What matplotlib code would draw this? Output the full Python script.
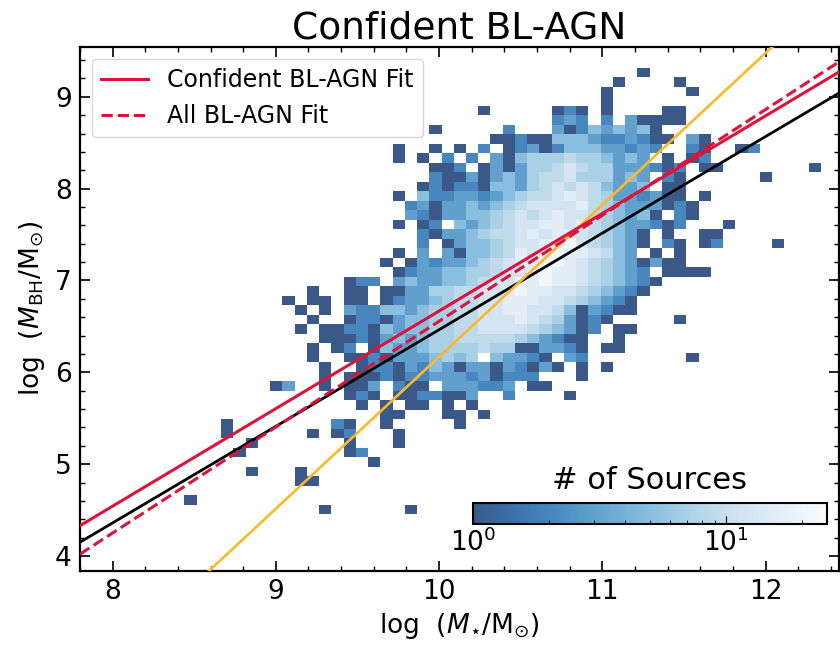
import numpy as np
import matplotlib
matplotlib.use("Agg")
import matplotlib.pyplot as plt
from matplotlib.colors import LogNorm
from matplotlib.ticker import MultipleLocator

# 2D histogram of sources.
# top row = highest log M_BH bin; '.' = empty, digit = index into level_counts
level_counts = [0, 1, 2, 3, 5, 7, 9, 12, 16, 21]
count_rows = [
    "..........|..........|..........|.......1..|..........|..",
    "..........|..........|..........|.....1....|1.........|..",
    "..........|..........|..........|....1.....|.1........|..",
    "..........|..........|..........|....1.....|..........|..",
    "..........|..........|....1.....|121.1....1|1.........|..",
    "..........|..........|..........|232.2.3111|1.........|..",
    "..........|..........|1.....2...|312434341.|..........|..",
    "..........|..........|.....11211|4443223211|.31.......|..",
    "..........|.......1..|1.1.2.1231|244433232.|.21..12...|..",
    "..........|.......1.1|.2.2.31455|56554343.1|.12.......|..",
    "..........|..........|112.131355|6765533321|2.11......|.1",
    "..........|..........|2113134356|67555343.2|1......1..|..",
    "..........|.........1|2122144356|76764334.1|1.........|..",
    "..........|.......1.4|2233234566|7876533231|1.1.......|..",
    "..........|........23|1334345677|7786543331|21........|..",
    "..........|........32|1334456767|877654341.|21........|..",
    "..........|.......1.1|2.43456778|8786543321|2...1.....|..",
    "..........|.........2|1334566787|88765431.1|..11......|..",
    "..........|.........2|.134456778|89765431.2|1.12....1.|..",
    "..........|.......1.3|.314456878|9887643.1.|1.........|..",
    "..........|......1.13|2334567889|9876543131|1.........|..",
    "..........|.......123|3445567789|88765432.1|111.......|..",
    "..........|...122.343|3445677989|887654321.|..........|..",
    "..........|1..11.1133|5566778988|77654321..|..........|..",
    "........1.|11.11.1233|4566778887|7654321...|..........|..",
    ".........1|.1.3224434|5566778877|6413211...|..........|..",
    "..........|1..1221344|5566777876|53121.....|1.........|..",
    ".........1|.112214344|5566777765|4312.11...|..........|..",
    "..........|.111213434|5566666543|211..1....|..........|..",
    "..........|1.12.14334|5555655113|321.11....|..........|..",
    "..........|1..1121333|4545.43321|.32.......|.1........|..",
    "..........|.1..122132|4313313213|1.1.1.....|..........|..",
    "..........|.1.1112122|333231222.|..1.......|..........|..",
    ".......13.|.1.113.211|.333223.11|..........|..........|..",
    "..........|...121.112|2113..2...|.1........|..........|..",
    "..........|....1.1.11|.1.1......|..........|..........|..",
    "..........|......11..|.11.1.....|..........|..........|..",
    "...1......|..21..1...|..1.......|..........|..........|..",
    "...1......|1.12...1..|..........|..........|..........|..",
    ".....1....|...1...1..|..........|..........|..........|..",
    "....1.....|...12.....|..........|..........|..........|..",
    "..........|.....1....|..........|..........|..........|..",
    ".....1...1|..........|..........|..........|..........|..",
    ".........1|1.........|..........|..........|..........|..",
    "..........|..........|..........|..........|..........|..",
    "1.........|..........|..........|..........|..........|..",
    "..........|.1......1.|..........|..........|..........|..",
]
mstar_range = (8.44, 12.34)
mbh_range = (4.454, 9.318)
count_max = 25

# relations (endpoints read at the axis edges)
fit_x = [7.8, 12.45]
conf_fit_y = [4.33, 9.27]
all_fit_y = [4.02, 9.38]
black_rel_y = [4.15, 9.04]
orange_rel_y = [2.53, 10.22]

key = ".123456789"
grid = np.array([[level_counts[key.index(c)] for c in r.replace("|", "")]
                 for r in count_rows], dtype=float)[::-1]
grid = np.ma.masked_equal(grid, 0)
xe = np.linspace(mstar_range[0], mstar_range[1], grid.shape[1] + 1)
ye = np.linspace(mbh_range[0], mbh_range[1], grid.shape[0] + 1)

fig = plt.figure(figsize=(8.4, 6.48), dpi=100)
ax = fig.add_axes([0.0952, 0.1193, 0.9036, 0.8086])

mesh = ax.pcolormesh(xe, ye, grid, cmap="Blues_r",
                     norm=LogNorm(vmin=1, vmax=count_max),
                     alpha=0.8, linewidth=0, antialiased=False)

ax.plot(fit_x, black_rel_y, color="black", lw=2.0, zorder=3)
ax.plot(fit_x, orange_rel_y, color="#fbb829", lw=1.9, zorder=3)
ax.plot(fit_x, conf_fit_y, color="#dc143c", lw=2.2, zorder=4,
        label="Confident BL-AGN Fit")
ax.plot(fit_x, all_fit_y, color="#dc143c", lw=2.2, ls="--", zorder=4,
        label="All BL-AGN Fit")

ax.set_xlim(7.8, 12.45)
ax.set_ylim(3.84, 9.545)
ax.xaxis.set_major_locator(MultipleLocator(1))
ax.yaxis.set_major_locator(MultipleLocator(1))
ax.xaxis.set_minor_locator(MultipleLocator(0.2))
ax.yaxis.set_minor_locator(MultipleLocator(0.2))
ax.tick_params(which="both", direction="in", top=True, right=True,
               labelsize=19, pad=6)
ax.tick_params(which="major", length=7, width=1.2)
ax.tick_params(which="minor", length=3.5, width=1.0)
for s in ax.spines.values():
    s.set_linewidth(1.6)

ax.set_xlabel(r"log  ($M_{\star}$/M$_{\odot}$)", fontsize=19, labelpad=4)
ax.set_ylabel(r"log  ($M_{\rm BH}$/M$_{\odot}$)", fontsize=19, labelpad=6)
ax.set_title("Confident BL-AGN", fontsize=27, pad=6)

ax.legend(loc="upper left", fontsize=17, framealpha=0.8)

cax = fig.add_axes([0.563, 0.1914, 0.4214, 0.0324])
cb = fig.colorbar(mesh, cax=cax, orientation="horizontal")
cb.set_label("# of Sources", fontsize=22, labelpad=10)
cax.xaxis.set_label_position("top")
cax.tick_params(which="both", direction="in", bottom=True, top=False,
                labelsize=19)
cax.tick_params(which="major", length=6)
cax.tick_params(which="minor", length=3)
cb.outline.set_linewidth(1.5)

fig.savefig("out.png", dpi=100)
